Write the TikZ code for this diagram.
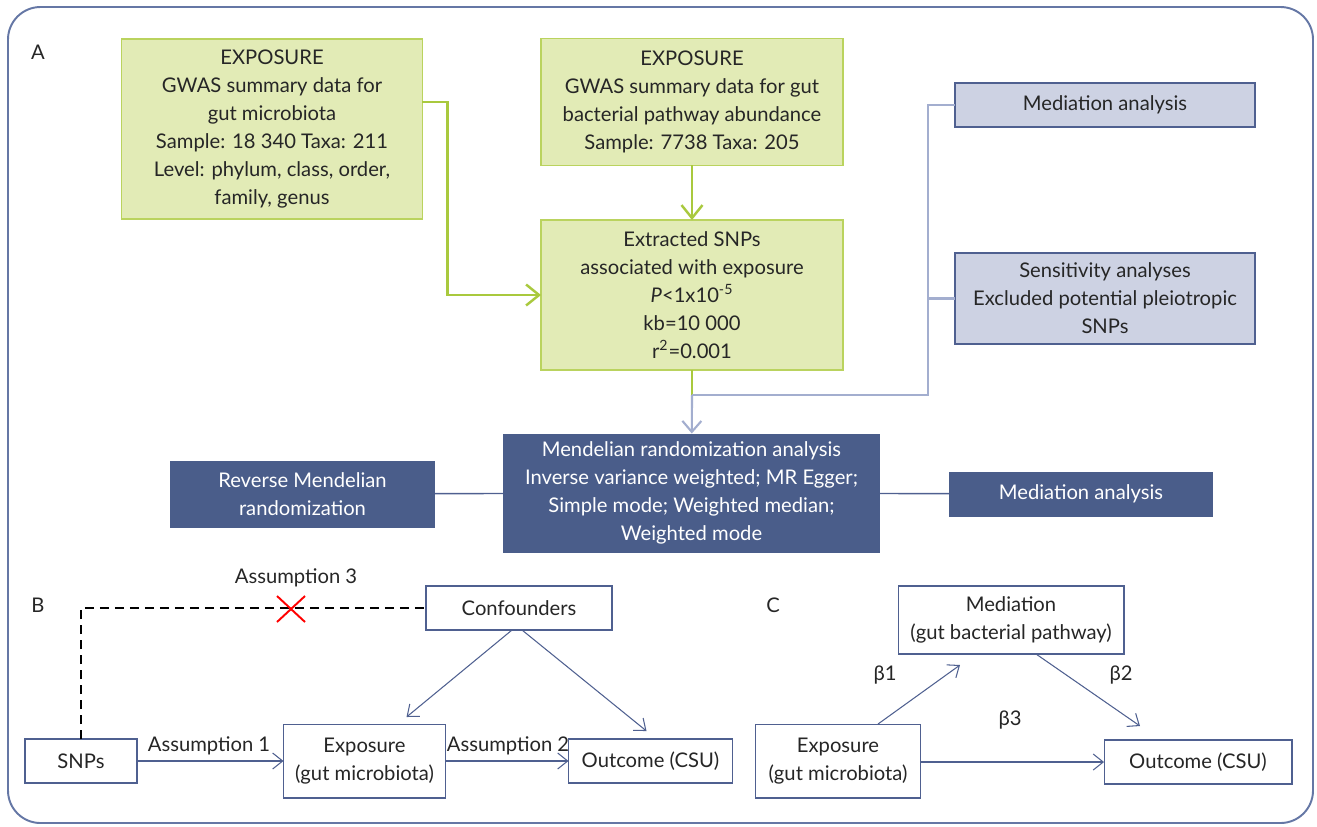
\documentclass[tikz,border=0pt]{standalone}
\usepackage{fontspec}
\setmainfont{Lato}
\usetikzlibrary{arrows.meta}
\usetikzlibrary{calc}
\definecolor{boxgreen}{HTML}{E2EBB6}
\definecolor{edgegreen}{HTML}{BAD35E}
\definecolor{linegreen}{HTML}{A9C93E}
\definecolor{boxlight}{HTML}{CDD2E3}
\definecolor{edgeblue}{HTML}{4F6090}
\definecolor{boxdark}{HTML}{4A5D8A}
\definecolor{linegrey}{HTML}{A3AECF}
\definecolor{framecol}{HTML}{6577A5}
\definecolor{txt}{HTML}{262626}
\tikzset{
  every node/.style={font=\fontsize{11.5}{16}\selectfont,text=txt},
  greenbox/.style={draw=edgegreen,fill=boxgreen,line width=1.1pt,align=center,inner sep=0pt,outer sep=0pt},
  lightbox/.style={draw=edgeblue,fill=boxlight,line width=0.8pt,align=center,inner sep=0pt,outer sep=0pt},
  darkbox/.style={fill=boxdark,text=white,align=center,inner sep=0pt,outer sep=0pt},
  plainbox/.style={draw=edgeblue,fill=white,line width=0.6pt,align=center,inner sep=0pt,outer sep=0pt},
  greenarrow/.style={draw=linegreen,line width=1.4pt,-{Straight Barb[length=0.26cm,width=0.42cm]}},
  greyline/.style={draw=linegrey,line width=1.2pt},
  thinarrow/.style={draw=edgeblue,line width=0.6pt,-{Straight Barb[length=0.2cm,width=0.32cm]}},
  dashline/.style={draw=black,line width=0.6pt,dash pattern=on 0.18cm off 0.12cm},
}
\begin{document}
\begin{tikzpicture}[x=0.02cm,y=-0.02cm]
\useasboundingbox (0,0) rectangle (1317,826);
\draw[framecol,line width=1.1pt,rounded corners=0.65cm] (8,7) rectangle (1313,823);

% panel A
\node (pa) at (38,52) {A};
\node[greenbox,minimum width=6.02cm,minimum height=3.6cm] (gut) at (272,129)
  {EXPOSURE\\GWAS summary data for\\gut microbiota\\Sample: 18 340 Taxa: 211\\Level: phylum, class, order,\\family, genus};
\node[greenbox,minimum width=6.04cm,minimum height=2.54cm] (path) at (692,102)
  {EXPOSURE\\GWAS summary data for gut\\bacterial pathway abundance\\Sample: 7738 Taxa: 205};
\node[greenbox,minimum width=6.04cm,minimum height=3.0cm] (snps) at (692,295)
  {Extracted SNPs\\associated with exposure\\\textit{P}<1x10\textsuperscript{-5}\\kb=10 000\\r\textsuperscript{2}=0.001};
\node[lightbox,minimum width=6.0cm,minimum height=0.88cm] (medtop) at (1105,105) {Mediation analysis};
\node[lightbox,minimum width=6.0cm,minimum height=1.82cm] (sens) at (1105,298.5)
  {Sensitivity analyses\\Excluded potential pleiotropic\\SNPs};
\node[darkbox,minimum width=7.54cm,minimum height=2.38cm] (mr) at (691.5,493)
  {Mendelian randomization analysis\\Inverse variance weighted; MR Egger;\\Simple mode; Weighted median;\\Weighted mode};
\node[darkbox,minimum width=5.3cm,minimum height=1.34cm] (rev) at (302.5,494)
  {Reverse Mendelian\\randomization};
\node[darkbox,minimum width=5.28cm,minimum height=0.9cm] (medmr) at (1081,494) {Mediation analysis};

\coordinate (join) at (692,395);
\coordinate (turn) at (928,395);
\draw[greenarrow] (gut.east |- path) -- ++(25,0) |- (snps);
\draw[greenarrow] (path) -- (snps);
\draw[draw=linegreen,line width=1.4pt] (snps) -- (join);
\draw[greyline] (join) -- (turn) |- (medtop);
\draw[greyline] (turn) |- (sens);
\draw[greyline,-{Straight Barb[length=0.22cm,width=0.38cm]}] (join) -- (mr);
\draw[edgeblue,line width=0.8pt] (rev) -- (mr);
\draw[edgeblue,line width=0.8pt] (mr) -- (medmr);

% panel B
\node (pb) at (38,605) {B};
\node[plainbox,minimum width=3.72cm,minimum height=0.88cm] (conf) at (519,608) {Confounders};
\node[plainbox,minimum width=2.24cm,minimum height=0.88cm] (snp) at (81,761) {SNPs};
\node[plainbox,minimum width=3.24cm,minimum height=1.48cm] (expb) at (364.5,761) {Exposure\\(gut microbiota)};
\node[plainbox,minimum width=3.28cm,minimum height=0.88cm] (outb) at (650.5,761) {Outcome (CSU)};
\node (ass3) at (296,578) {Assumption 3};
\node (ass1) at (209,746) {Assumption 1};
\node (ass2) at (508,746) {Assumption 2};
\coordinate (cross) at (291,609);

\draw[dashline] (snp.north) |- (conf.west);
\draw[red,line width=1.1pt] ($(cross)+(-14,-13)$) -- ($(cross)+(14,13)$);
\draw[red,line width=1.1pt] ($(cross)+(-14,13)$) -- ($(cross)+(14,-13)$);
\draw[thinarrow] (snp) -- (expb);
\draw[thinarrow] (expb) -- (outb);
\draw[thinarrow] ($(conf.south)+(-7,0)$) -- ($(expb.north)+(42,-7)$);
\draw[thinarrow] ($(conf.south)+(3,0)$) -- ($(outb.north)+(-4,-8)$);

% panel C
\node (pc) at (773,605) {C};
\node[plainbox,minimum width=4.52cm,minimum height=1.36cm] (medc) at (1011,620) {Mediation\\(gut bacterial pathway)};
\node[plainbox,minimum width=3.3cm,minimum height=1.48cm] (expc) at (838,761) {Exposure\\(gut microbiota)};
\node[plainbox,minimum width=3.76cm,minimum height=0.88cm] (outc) at (1198,762) {Outcome (CSU)};
\node (b1) at (885,675) {β1};
\node (b2) at (1121,675) {β2};
\node (b3) at (1010,720) {β3};

\draw[thinarrow] ($(expc.north)+(40,0)$) -- ($(medc.south)+(-51,11)$);
\draw[thinarrow] ($(medc.south)+(25,0)$) -- ($(outc.north)+(-58,-14)$);
\draw[thinarrow] (expc.east |- outc) -- (outc);
\end{tikzpicture}
\end{document}
